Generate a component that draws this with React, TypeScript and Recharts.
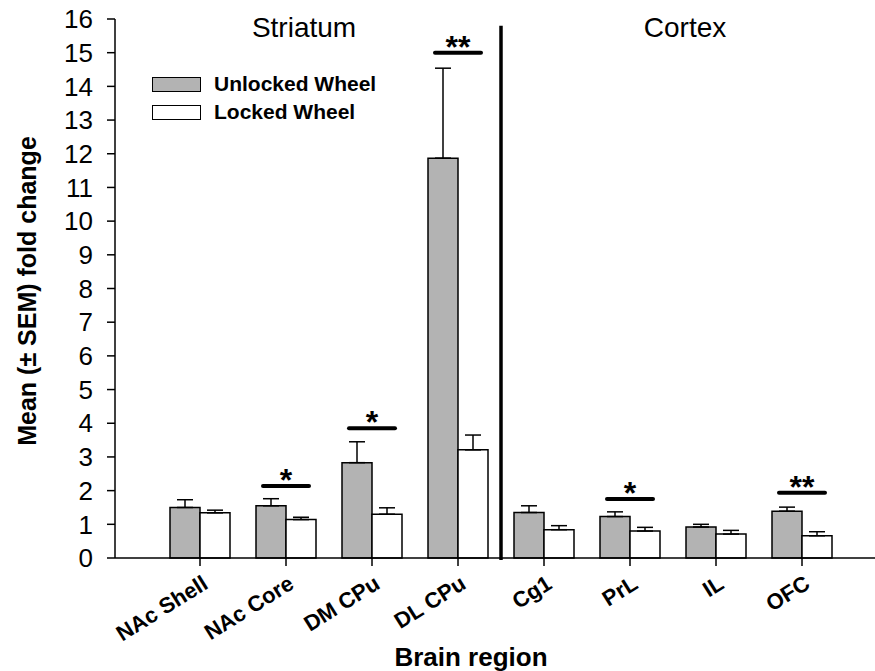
import React from 'react';
import { BarChart, Bar, XAxis, YAxis, ErrorBar, Legend, ReferenceLine, ReferenceDot } from 'recharts';

const regions = ['NAc Shell', 'NAc Core', 'DM CPu', 'DL CPu', 'Cg1', 'PrL', 'IL', 'OFC'];
const unlockedMean = [1.5, 1.55, 2.83, 11.87, 1.35, 1.23, 0.92, 1.39];
const unlockedSem = [0.23, 0.21, 0.62, 2.67, 0.2, 0.14, 0.08, 0.12];
const lockedMean = [1.34, 1.14, 1.3, 3.21, 0.84, 0.8, 0.71, 0.66];
const lockedSem = [0.08, 0.07, 0.19, 0.44, 0.12, 0.11, 0.11, 0.12];
const yTicks = [0, 1, 2, 3, 4, 5, 6, 7, 8, 9, 10, 11, 12, 13, 14, 15, 16];

const sigRegions = ['NAc Core', 'DM CPu', 'DL CPu', 'PrL', 'OFC'];
const sigMarks = ['*', '*', '**', '*', '**'];
const sigHeights = [2.14, 3.85, 15.0, 1.75, 1.94];

const groupNames = ['Striatum', 'Cortex'];

const FONT = '"Liberation Sans", Arial, sans-serif';
const GRAY = '#b3b3b3';

const data = regions.map((name, i) => ({
    name,
    unlocked: unlockedMean[i],
    unlockedErr: [0, unlockedSem[i]],
    locked: lockedMean[i],
    lockedErr: [0, lockedSem[i]],
}));

// group headings: anchored to a category, nudged sideways in px
const groupAnchor = [{ x: 'NAc Core', dx: 18 }, { x: 'PrL', dx: 55 }];

const RegionTick = ({ x, y, payload }: any) => (
    <g transform={`translate(${x + 1},${y + 6})`}>
        <text textAnchor="end" transform="rotate(-32)" dy="0.72em" fontSize={22} fontWeight="bold" fontFamily={FONT} fill="#000">
            {payload.value}
        </text>
    </g>
);

const SigShape = (mark: string) => (props: any) => {
    const { cx, cy } = props;
    return (
        <g>
            <line x1={cx - 23} x2={cx + 23} y1={cy} y2={cy} stroke="#000" strokeWidth={4} strokeLinecap="round" />
            <text x={cx} y={cy + 5} textAnchor="middle" fontSize={32} fontWeight="bold" fontFamily={FONT} fill="#000">
                {mark}
            </text>
        </g>
    );
};

const GroupShape = (name: string, dx: number) => (props: any) => (
    <text x={props.cx + dx} y={37} textAnchor="middle" fontSize={28} fontFamily={FONT} fill="#000">
        {name}
    </text>
);

const LegendBox = () => {
    const items = [
        { label: 'Unlocked Wheel', fill: GRAY },
        { label: 'Locked Wheel', fill: '#fff' },
    ];
    return (
        <div style={{ fontFamily: FONT }}>
            {items.map((it) => (
                <div key={it.label} style={{ display: 'flex', alignItems: 'center', height: 28 }}>
                    <div style={{ width: 47, height: 13, background: it.fill, border: '1.5px solid #000', marginRight: 13 }} />
                    <span style={{ fontSize: 21, fontWeight: 'bold', color: '#000' }}>{it.label}</span>
                </div>
            ))}
        </div>
    );
};

const YTitle = () => (
    <text x={27} y={291} transform="rotate(-90 27 291)" textAnchor="middle" dominantBaseline="central"
        fontSize={25} fontWeight="bold" fontFamily={FONT} fill="#000">
        Mean (± SEM) fold change
    </text>
);

const XTitle = () => (
    <text x={471} y={666} textAnchor="middle" fontSize={26} fontWeight="bold" fontFamily={FONT} fill="#000">
        Brain region
    </text>
);

export default function App() {
    return (
        <div style={{ position: 'absolute', left: 0, top: 0, width: 875, height: 671, background: '#fff' }}>
            <BarChart width={875} height={671} data={data} margin={{ top: 19, right: 0, left: 0, bottom: 0 }}
                barCategoryGap={13} barGap={0}>
                <XAxis dataKey="name" interval={0} padding={{ left: 42, right: 30 }} height={113}
                    axisLine={{ stroke: '#000', strokeWidth: 1.5 }} tickLine={{ stroke: '#000', strokeWidth: 1.5 }}
                    tickSize={8} tick={<RegionTick />}
                    label={{ content: () => <XTitle /> }} />
                <YAxis width={115} domain={[0, 16]} ticks={yTicks} interval={0} tickSize={8} tickMargin={14}
                    axisLine={{ stroke: '#000', strokeWidth: 1.5 }} tickLine={{ stroke: '#000', strokeWidth: 1.5 }}
                    tick={{ fontSize: 26, fill: '#000', fontFamily: FONT }}
                    label={{ content: () => <YTitle /> }} />
                <Legend layout="vertical" align="center" verticalAlign="middle" content={<LegendBox />}
                    wrapperStyle={{ top: 70, left: 152, width: 'auto', height: 'auto' }} />
                <Bar dataKey="unlocked" name="Unlocked Wheel" fill={GRAY} stroke="#000" strokeWidth={1.5} isAnimationActive={false}>
                    <ErrorBar dataKey="unlockedErr" width={8} stroke="#000" strokeWidth={1.5} />
                </Bar>
                <Bar dataKey="locked" name="Locked Wheel" fill="#fff" stroke="#000" strokeWidth={1.5} isAnimationActive={false}>
                    <ErrorBar dataKey="lockedErr" width={8} stroke="#000" strokeWidth={1.5} />
                </Bar>
                <ReferenceLine segment={[{ x: 'DL CPu', y: -0.06 }, { x: 'DL CPu', y: 15.8 }]} position="end"
                    stroke="#000" strokeWidth={3.5} ifOverflow="visible" />
                {sigRegions.map((r, i) => (
                    <ReferenceDot key={r} x={r} y={sigHeights[i]} r={0} shape={SigShape(sigMarks[i])} />
                ))}
                {groupNames.map((g, i) => (
                    <ReferenceDot key={g} x={groupAnchor[i].x} y={15.5} r={0} shape={GroupShape(g, groupAnchor[i].dx)} />
                ))}
            </BarChart>
        </div>
    );
}
